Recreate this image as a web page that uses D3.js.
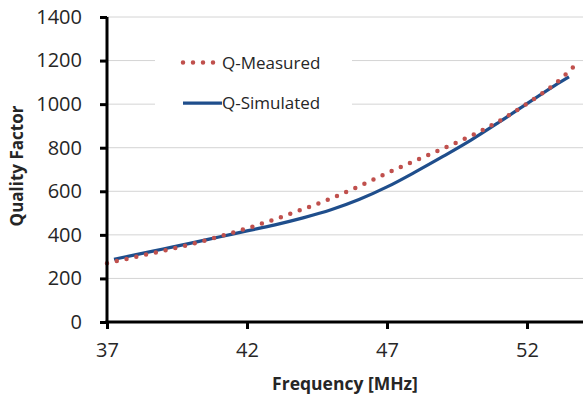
<!DOCTYPE html>
<html>
<head>
<meta charset="utf-8">
<script src="https://cdn.jsdelivr.net/npm/d3@7"></script>
<style>
  body { margin: 0; background: #fff; }
  text { font-family: "Open Sans", "Liberation Sans", sans-serif; fill: #262626; }
</style>
</head>
<body>
<div id="chart"></div>
<script>
// data
var measuredFreq = [37, 38, 39, 40, 41, 42, 43, 44, 45, 46, 47, 48, 49, 50, 51, 52, 53, 53.85];
var measuredQ    = [270, 298, 327, 357, 392, 430, 472, 518, 567, 623, 683, 740, 796, 855, 922, 1003, 1093, 1195];
var simFreq = [37.25, 38, 39, 40, 41, 42, 43, 44, 45, 46, 47, 48, 49, 50, 51, 52, 53, 53.5];
var simQ    = [288, 308, 335, 362, 390, 418, 446, 478, 515, 562, 620, 688, 760, 835, 917, 1002, 1086, 1125];
var xTicks = [37, 42, 47, 52];
var yTicks = [0, 200, 400, 600, 800, 1000, 1200, 1400];
var seriesNames = ["Q-Measured", "Q-Simulated"];

var attrs = {
  width: 585,
  height: 403,
  margin: { top: 17, right: 2, bottom: 81, left: 107 }
};

var svg = d3.select("#chart").append("svg")
  .attr("width", attrs.width)
  .attr("height", attrs.height);

var chartWidth = attrs.width - attrs.margin.left - attrs.margin.right;
var chartHeight = attrs.height - attrs.margin.top - attrs.margin.bottom;

var x = d3.scaleLinear().domain([37, 54]).range([0, chartWidth]);
var y = d3.scaleLinear().domain([0, 1400]).range([chartHeight, 0]);

var chart = svg.append("g")
  .attr("transform", "translate(" + attrs.margin.left + "," + attrs.margin.top + ")");

// gridlines
chart.append("g").selectAll("line")
  .data(yTicks.filter(d => d > 0))
  .join("line")
  .attr("x1", 0).attr("x2", chartWidth)
  .attr("y1", d => y(d)).attr("y2", d => y(d))
  .attr("stroke", "#d4d4d4")
  .attr("stroke-width", 1);

// legend backdrop hides the gridlines behind it
chart.append("rect")
  .attr("x", 48).attr("y", 25)
  .attr("width", 197).attr("height", 100)
  .attr("fill", "#fff");

var line = d3.line()
  .x(d => x(d[0]))
  .y(d => y(d[1]))
  .curve(d3.curveMonotoneX);

chart.append("path")
  .datum(simFreq.map((f, i) => [f, simQ[i]]))
  .attr("d", line)
  .attr("fill", "none")
  .attr("stroke", "#1f4e8c")
  .attr("stroke-width", 3.2);

chart.append("path")
  .datum(measuredFreq.map((f, i) => [f, measuredQ[i]]))
  .attr("d", line)
  .attr("fill", "none")
  .attr("stroke", "#c0504d")
  .attr("stroke-width", 4.5)
  .attr("stroke-linecap", "round")
  .attr("stroke-dasharray", "0 10");

// axes
var yAxis = chart.append("g")
  .call(d3.axisLeft(y).tickValues(yTicks).tickFormat(d3.format("d")).tickSize(7).tickPadding(18));
var xAxis = chart.append("g")
  .attr("transform", "translate(0," + chartHeight + ")")
  .call(d3.axisBottom(x).tickValues(xTicks).tickFormat(d3.format("d")).tickSize(7).tickPadding(14));

[yAxis, xAxis].forEach(function (ax) {
  ax.select(".domain").attr("stroke", "#000").attr("stroke-width", 3);
  ax.selectAll(".tick line").attr("stroke", "#000").attr("stroke-width", 3);
  ax.selectAll(".tick text")
    .attr("font-size", 20)
    .attr("font-family", "\"Open Sans\", \"Liberation Sans\", sans-serif")
    .attr("fill", "#262626");
});
yAxis.select(".domain").attr("d", "M0," + (chartHeight + 1.5) + "V0");
xAxis.select(".domain").attr("d", "M-1.5,0H" + chartWidth);

// axis titles
svg.append("text")
  .attr("x", 345).attr("y", 390)
  .attr("text-anchor", "middle")
  .attr("font-size", 17.5)
  .attr("font-weight", "bold")
  .text("Frequency [MHz]");

svg.append("text")
  .attr("transform", "translate(23,166) rotate(-90)")
  .attr("text-anchor", "middle")
  .attr("font-size", 17)
  .attr("font-weight", "bold")
  .text("Quality Factor");

// legend
var legend = chart.append("g").attr("transform", "translate(76,0)");

legend.append("line")
  .attr("x1", 0).attr("x2", 37)
  .attr("y1", y(1200) + 2).attr("y2", y(1200) + 2)
  .attr("stroke", "#c0504d")
  .attr("stroke-width", 4.5)
  .attr("stroke-linecap", "round")
  .attr("stroke-dasharray", "0 10");

legend.append("line")
  .attr("x1", 0).attr("x2", 39)
  .attr("y1", y(1000) - 1).attr("y2", y(1000) - 1)
  .attr("stroke", "#1f4e8c")
  .attr("stroke-width", 3.2);

legend.selectAll("text.leg")
  .data(seriesNames)
  .join("text")
  .attr("class", "leg")
  .attr("x", 39)
  .attr("y", (d, i) => i === 0 ? y(1200) + 2 : y(1000) - 1)
  .attr("dy", "0.35em")
  .attr("font-size", 17)
  .text(d => d);
</script>
</body>
</html>
